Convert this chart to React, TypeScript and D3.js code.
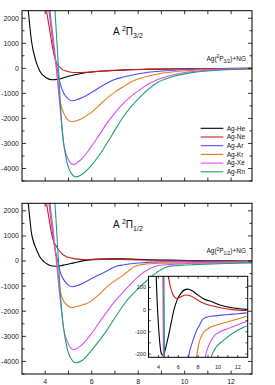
import React from "react";
import * as d3 from "d3";

// Ag–NG potential curves. [R (Å), E (cm-1)]
const species = ["Ag-He", "Ag-Ne", "Ag-Ar", "Ag-Kr", "Ag-Xe", "Ag-Rn"];
const colors = ["#000000", "#d01c1c", "#4d4dff", "#e07c1e", "#d94cf5", "#19a07a"];

// A 2Π3/2
const pi32He = [[3.2, 2800], [3.27, 2300], [3.34, 1650], [3.41, 1080], [3.56, 410], [3.77, -120], [4.06, -390], [4.3, -460], [4.55, -440], [5.0, -320], [5.5, -215], [6.0, -150], [6.6, -105], [7.5, -65], [8.5, -40], [9.5, -25], [10.5, -15], [11.5, -8], [12.9, -3]];
const pi32Ne = [[4.0, 2800], [4.06, 2300], [4.17, 1650], [4.27, 1080], [4.41, 410], [4.55, 130], [4.7, -20], [4.9, -110], [5.2, -165], [5.6, -170], [6.0, -145], [6.6, -100], [7.5, -60], [8.5, -32], [9.5, -18], [10.5, -10], [11.5, -5], [12.9, -2]];
const pi32Ar = [[4.1, 2800], [4.2, 2000], [4.3, 1250], [4.4, 580], [4.5, 65], [4.57, -300], [4.64, -600], [4.8, -1000], [5.0, -1230], [5.15, -1295], [5.4, -1240], [5.93, -1000], [6.3, -790], [6.65, -600], [6.93, -470], [7.36, -350], [8.08, -205], [9, -110], [10, -55], [11, -28], [12, -14], [12.9, -8]];
const pi32Kr = [[4.13, 2800], [4.22, 2000], [4.32, 1250], [4.42, 450], [4.5, -150], [4.57, -750], [4.64, -1300], [4.8, -1800], [5.0, -2080], [5.15, -2135], [5.45, -2060], [5.93, -1800], [6.3, -1500], [6.65, -1200], [7.0, -950], [7.36, -735], [7.65, -570], [8.08, -400], [9, -200], [10, -100], [11, -50], [12, -25], [12.9, -14]];
const pi32Xe = [[4.15, 2800], [4.24, 2000], [4.34, 1250], [4.44, 400], [4.52, -400], [4.6, -1200], [4.7, -2200], [4.79, -3000], [4.95, -3550], [5.21, -3840], [5.5, -3680], [5.93, -3200], [6.3, -2700], [6.65, -2200], [7.0, -1780], [7.36, -1400], [8.08, -850], [8.5, -600], [9, -400], [10, -170], [11, -80], [12, -40], [12.9, -20]];
const pi32Rn = [[4.38, 2800], [4.44, 2000], [4.5, 1100], [4.56, 150], [4.62, -900], [4.7, -2100], [4.78, -2900], [4.86, -3400], [5.05, -4080], [5.33, -4335], [5.6, -4220], [5.93, -3935], [6.3, -3500], [6.65, -3000], [7.0, -2470], [7.36, -1935], [8.08, -1150], [8.85, -560], [9.5, -330], [10.5, -150], [11.5, -70], [12.9, -25]];

// A 2Π1/2
const pi12He = [[3.2, 2800], [3.27, 2300], [3.34, 1650], [3.41, 1100], [3.52, 700], [3.63, 440], [3.72, 250], [3.8, 120], [3.95, -30], [4.1, -130], [4.25, -190], [4.42, -205], [4.6, -195], [4.85, -150], [5.1, -100], [5.35, -45], [5.6, 5], [5.9, 45], [6.3, 75], [6.9, 92], [7.4, 85], [7.9, 68], [8.5, 50], [9.4, 35], [10.2, 21], [11.0, 12], [12, 5], [12.9, 1]];
const pi12Ne = [[4.0, 2800], [4.06, 2300], [4.17, 1650], [4.27, 1100], [4.38, 750], [4.49, 570], [4.63, 380], [4.77, 250], [4.9, 185], [5.0, 150], [5.2, 105], [5.4, 75], [5.65, 55], [5.85, 50], [6.2, 56], [6.75, 66], [7.2, 62], [7.7, 50], [8.5, 30], [9.4, 17], [10.5, 6], [11.5, 0], [12.9, -4]];
const pi12Ar = [[4.1, 2800], [4.2, 2000], [4.3, 1250], [4.4, 560], [4.5, 150], [4.57, -120], [4.64, -420], [4.8, -750], [5.0, -960], [5.15, -1027], [5.45, -960], [5.93, -733], [6.3, -560], [6.65, -400], [7.03, -215], [7.4, -150], [7.8, -100], [8.15, -70], [8.5, -42], [9.0, -32], [10, -27], [11.1, -22], [12, -19], [12.9, -15]];
const pi12Kr = [[4.13, 2800], [4.22, 2000], [4.32, 1250], [4.42, 480], [4.5, 0], [4.58, -700], [4.66, -1250], [4.8, -1600], [5.0, -1800], [5.15, -1853], [5.45, -1790], [5.93, -1627], [6.3, -1350], [6.65, -1027], [7.0, -780], [7.36, -560], [7.6, -380], [7.85, -215], [8.1, -150], [8.4, -113], [9.06, -84], [10, -68], [11.1, -54], [12, -42], [12.9, -30]];
const pi12Xe = [[4.15, 2800], [4.24, 2000], [4.34, 1250], [4.44, 380], [4.52, -400], [4.6, -1150], [4.7, -2000], [4.79, -2693], [4.95, -3200], [5.21, -3533], [5.5, -3400], [5.93, -2960], [6.3, -2480], [6.65, -2027], [7.0, -1600], [7.36, -1227], [7.7, -900], [8.08, -560], [8.45, -330], [8.72, -215], [9.2, -150], [9.74, -113], [11.1, -84], [12, -68], [12.9, -54]];
const pi12Rn = [[4.38, 2800], [4.44, 2000], [4.5, 1100], [4.56, 150], [4.62, -850], [4.7, -1900], [4.78, -2600], [4.86, -3093], [5.05, -3780], [5.33, -4053], [5.6, -3950], [5.93, -3627], [6.3, -3200], [6.65, -2760], [7.0, -2260], [7.36, -1760], [7.7, -1380], [8.08, -1027], [8.4, -760], [8.7, -520], [9.0, -340], [9.3, -220], [9.6, -185], [10.0, -160], [10.4, -144], [11.76, -99], [12.9, -74]];

const yLabels = [-4000, -3000, -2000, -1000, 0, 1000, 2000];
const xLabels = [4, 6, 8, 10, 12];
const insetYLabels = [-200, -100, 0, 100];

const FONT = "Liberation Sans, Arial, sans-serif";
const L = 22, R = 252;

function Panel({ id, top, bottom, curves, sub, showLegend, showXLabels, inset }: any) {
  const x = d3.scaleLinear().domain([3, 12.9]).range([L, R]);
  const y = d3.scaleLinear().domain([-4500, 2300]).range([bottom, top]);
  const line = d3.line<number[]>().x(d => x(d[0])).y(d => y(d[1])).curve(d3.curveMonotoneX);
  const yMinor = d3.range(-4500, 2001, 500);
  const xMinor = d3.range(4, 13, 1);

  // inset
  const ix = d3.scaleLinear().domain([3, 13]).range([148.5, 247.7]);
  const iy = d3.scaleLinear().domain([-215, 150]).range([357.3, 276.3]);
  const iline = d3.line<number[]>().x(d => ix(d[0])).y(d => iy(d[1])).curve(d3.curveMonotoneX);

  return (
    <g>
      <defs>
        <clipPath id={"clip" + id}>
          <rect x={L} y={top} width={R - L} height={bottom - top} />
        </clipPath>
        <clipPath id={"iclip" + id}>
          <rect x={148.5} y={276.3} width={99.2} height={81} />
        </clipPath>
      </defs>
      <g clipPath={`url(#clip${id})`}>
        {curves.map((c: number[][], i: number) => (
          <path key={i} d={line(c) as string} fill="none" stroke={colors[i]} strokeWidth={1.1} />
        ))}
      </g>
      {/* ticks */}
      {yMinor.map(v => {
        const len = v % 1000 === 0 ? 4 : 2.5;
        return (
          <g key={"yt" + v} stroke="#000" strokeWidth={0.8}>
            <line x1={L} x2={L + len} y1={y(v)} y2={y(v)} />
            <line x1={R} x2={R - len} y1={y(v)} y2={y(v)} />
          </g>
        );
      })}
      {xMinor.map(v => (
        <g key={"xt" + v} stroke="#000" strokeWidth={0.8}>
          <line x1={x(v)} x2={x(v)} y1={bottom} y2={bottom - 3.5} />
          <line x1={x(v)} x2={x(v)} y1={top} y2={top + 3.5} />
        </g>
      ))}
      <rect x={L} y={top} width={R - L} height={bottom - top} fill="none" stroke="#000" strokeWidth={1} />
      {yLabels.map(v => (
        <text key={"yl" + v} x={19} y={y(v)} dy="0.35em" textAnchor="end" fontSize={7} fontFamily={FONT} fill="#222">{v}</text>
      ))}
      {showXLabels && xLabels.map(v => (
        <text key={"xl" + v} x={x(v)} y={bottom + 10} textAnchor="middle" fontSize={7} fontFamily={FONT} fill="#222">{v}</text>
      ))}
      {/* state label */}
      <text x={113} y={top + 24.5} fontSize={10} fontFamily={FONT} fill="#111">
        A <tspan fontSize={7} dy={-4}>2</tspan><tspan dy={4}>Π</tspan><tspan fontSize={7} dy={3}>{sub}</tspan>
      </text>
      <text x={246} y={top + 50} textAnchor="end" fontSize={6.5} fontFamily={FONT} fill="#111">
        Ag(<tspan fontSize={4.8} dy={-2.5}>2</tspan><tspan dy={2.5}>P</tspan><tspan fontSize={4.8} dy={1.8}>{sub}</tspan><tspan dy={-1.8}>)+NG</tspan>
      </text>
      {showLegend && species.map((s, i) => {
        const ly = top + 117.6 + i * 8.7;
        return (
          <g key={s}>
            <line x1={200.7} x2={223.3} y1={ly} y2={ly} stroke={colors[i]} strokeWidth={1.1} />
            <text x={226.7} y={ly} dy="0.35em" fontSize={6.5} fontFamily={FONT} fill="#111">{s}</text>
          </g>
        );
      })}
      {inset && (
        <g>
          <rect x={148.5} y={276.3} width={99.2} height={81} fill="#fff" />
          <g clipPath={`url(#iclip${id})`}>
            {curves.map((c: number[][], i: number) => (
              <path key={i} d={iline(c) as string} fill="none" stroke={colors[i]} strokeWidth={1.1} />
            ))}
          </g>
          {d3.range(4, 13, 1).map(v => (
            <g key={"ixt" + v} stroke="#000" strokeWidth={0.7}>
              <line x1={ix(v)} x2={ix(v)} y1={357.3} y2={355} />
              <line x1={ix(v)} x2={ix(v)} y1={276.3} y2={278.6} />
            </g>
          ))}
          {d3.range(-200, 101, 50).map(v => (
            <g key={"iyt" + v} stroke="#000" strokeWidth={0.7}>
              <line x1={148.5} x2={150.8} y1={iy(v)} y2={iy(v)} />
              <line x1={247.7} x2={245.4} y1={iy(v)} y2={iy(v)} />
            </g>
          ))}
          <rect x={148.5} y={276.3} width={99.2} height={81} fill="none" stroke="#000" strokeWidth={1} />
          {insetYLabels.map(v => (
            <text key={"iyl" + v} x={146} y={iy(v)} dy="0.35em" textAnchor="end" fontSize={5.5} fontFamily={FONT} fill="#222">{v}</text>
          ))}
          {xLabels.map(v => (
            <text key={"ixl" + v} x={ix(v)} y={368.5} textAnchor="middle" fontSize={5.5} fontFamily={FONT} fill="#222">{v}</text>
          ))}
        </g>
      )}
    </g>
  );
}

export default function App() {
  return (
    <svg width={275} height={385} viewBox="0 0 275 385"
      style={{ position: "absolute", left: 0, top: 0, background: "#fff" }}>
      <rect width={275} height={385} fill="#fff" />
      <Panel id="a" top={10.7} bottom={181} sub="3/2"
        curves={[pi32He, pi32Ne, pi32Ar, pi32Kr, pi32Xe, pi32Rn]} showLegend />
      <Panel id="b" top={203.3} bottom={374} sub="1/2"
        curves={[pi12He, pi12Ne, pi12Ar, pi12Kr, pi12Xe, pi12Rn]} showXLabels inset />
    </svg>
  );
}
